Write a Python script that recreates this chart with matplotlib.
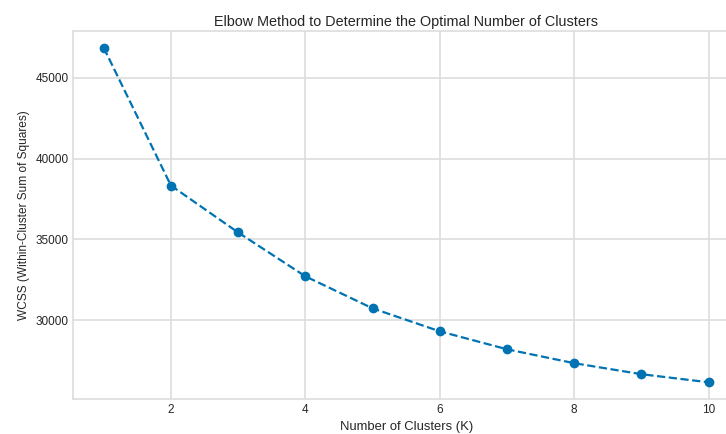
import matplotlib
matplotlib.use("Agg")
import matplotlib.pyplot as plt

# elbow curve values
k_values = [1, 2, 3, 4, 5, 6, 7, 8, 9, 10]
wcss = [46850, 38330, 35430, 32720, 30740, 29320, 28210, 27350, 26670, 26170]

plt.style.use("seaborn-v0_8-whitegrid")
plt.rcParams["font.family"] = ["Liberation Sans", "DejaVu Sans"]

fig = plt.figure(figsize=(7.26, 4.34), dpi=100)
ax = fig.add_axes([0.1012, 0.0806, 0.9166, 0.848])

ax.plot(k_values, wcss, marker="o", linestyle="--", color="#0173b2",
        markersize=6, linewidth=1.6)

ax.set_title("Elbow Method to Determine the Optimal Number of Clusters",
             fontsize=10.4, pad=3.8)
ax.set_xlabel("Number of Clusters (K)", fontsize=9.4)
ax.set_ylabel("WCSS (Within-Cluster Sum of Squares)", fontsize=8.6)
ax.tick_params(labelsize=8.5)
ax.grid(True, color="#dddddd", linewidth=1.2)
for s in ax.spines.values():
    s.set_color("#dddddd")
    s.set_linewidth(1.2)

fig.savefig("out.png", dpi=100)
